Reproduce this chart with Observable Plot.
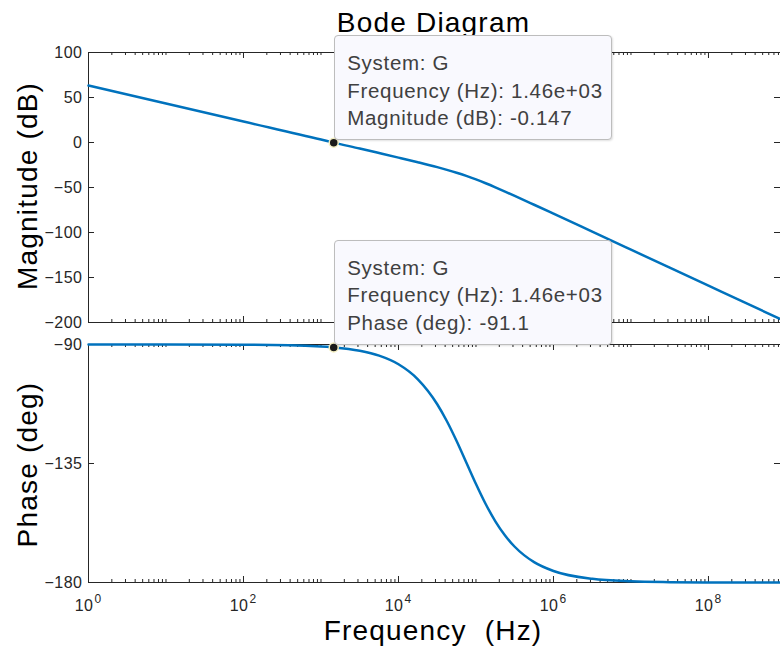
<!DOCTYPE html>
<html><head><meta charset="utf-8">
<script src="https://cdn.jsdelivr.net/npm/d3@7"></script>
<script src="https://cdn.jsdelivr.net/npm/@observablehq/plot@0.6"></script>
<style>
body{margin:0;background:#fff;}
#wrap{position:relative;width:780px;height:650px;overflow:hidden;font-family:"Liberation Sans",Arial,sans-serif;}
#wrap > svg{position:absolute;left:0;}
.tip{position:absolute;box-sizing:border-box;background:#f9f9fe;border:1px solid #bdbdbd;border-radius:4px;color:#404040;font-size:20.5px;letter-spacing:0.7px;line-height:27.5px;padding:13px 0 0 12px;white-space:pre;box-shadow:1px 1px 2px rgba(0,0,0,0.12);}
</style></head><body><div id="wrap"></div>
<script>
// ---- data ----
const freqHz   = [1, 10, 100, 1000, 1460, 3162, 5623, 10000, 17783, 31623, 42170, 56234, 74989, 100000, 133352, 177828, 237137, 316228, 562341, 1000000, 3162278, 10000000, 31622777, 100000000, 316227766, 850000000];
const magDb    = [63.3, 43.3, 23.3, 3.3, -0.15, -6.71, -11.72, -16.77, -21.93, -27.39, -30.37, -33.6, -37.15, -41.06, -45.3, -49.81, -54.51, -59.32, -69.16, -79.1, -99.08, -119.08, -139.08, -159.08, -179.08, -196.3];
const phaseDeg = [-90, -90.01, -90.08, -90.75, -91.1, -92.38, -94.23, -97.49, -103.17, -112.58, -119.01, -126.49, -134.61, -142.75, -150.31, -156.85, -162.22, -166.48, -172.3, -175.65, -178.62, -179.56, -179.86, -179.96, -179.99, -180];
const xDomain = [1, 850000000];
const magDomain = [-200, 100];
const phaseDomain = [-180, -90];
const magTicks = [100, 50, 0, -50, -100, -150, -200];
const phaseTicks = [-90, -135, -180];
const xTickExps = [0, 2, 4, 6, 8];
const systemName = "G";
const tipFreqLabel = "1.46e+03";
const tipFreq = 1460;
const tipMag = -0.147;
const tipPhase = -91.1;
const titleText = "Bode Diagram";
const magLabel = "Magnitude (dB)";
const phaseLabel = "Phase (deg)";
const freqLabel = "Frequency  (Hz)";

// ---- tick sets ----
const majorX = xTickExps.map(e => Math.pow(10, e));
const minorX = [];
for (let k = 0; k <= 8; k++) for (let m = 1; m <= 9; m++) {
  const f = m * Math.pow(10, k);
  if (f <= xDomain[1] && !(m === 1 && xTickExps.includes(k))) minorX.push(f);
}

const W = 780, ML = 88, MR = 0;
const AX = "#262626";
const wrap = document.getElementById("wrap");

function panel({h, mt, mb, yDomain, yTicks, values, tipY, xLabels}) {
  const plotW = W - ML - MR, plotH = h - mt - mb;
  const data = freqHz.map((f, i) => ({f, v: values[i]}));
  const marks = [
    Plot.frame({stroke: AX, strokeWidth: 1}),
    Plot.tickX(minorX, {x: d => d, stroke: AX, insetTop: plotH - 3}),
    Plot.tickX(minorX, {x: d => d, stroke: AX, insetBottom: plotH - 3}),
    Plot.tickX(majorX, {x: d => d, stroke: AX, insetTop: plotH - 6}),
    Plot.tickX(majorX, {x: d => d, stroke: AX, insetBottom: plotH - 6}),
    Plot.tickY(yTicks, {y: d => d, stroke: AX, insetRight: plotW - 6}),
    Plot.tickY(yTicks, {y: d => d, stroke: AX, insetLeft: plotW - 6}),
    Plot.axisY({ticks: yTicks, tickSize: 0, tickPadding: 6, label: null, fontSize: 16}),
    Plot.line(data, {x: "f", y: "v", stroke: "#0072BD", strokeWidth: 2.5, curve: "monotone-x"}),
    Plot.dot([{f: tipFreq, v: tipY}], {x: "f", y: "v", r: 4.5, fill: "#1a1a1a", stroke: "#f3eec0", strokeWidth: 1.5})
  ];
  if (xLabels) {
    marks.push(Plot.text(majorX, {x: d => d, text: () => "10", frameAnchor: "bottom", lineAnchor: "bottom", dy: 28, dx: 5, textAnchor: "end", fontSize: 16, fill: AX}));
    marks.push(Plot.text(xTickExps, {x: e => Math.pow(10, e), text: e => String(e), frameAnchor: "bottom", lineAnchor: "bottom", dy: 20, dx: 6, textAnchor: "start", fontSize: 12, fill: AX}));
  }
  return Plot.plot({
    width: W, height: h, marginLeft: ML, marginRight: MR, marginTop: mt, marginBottom: mb,
    x: {type: "log", domain: xDomain, axis: null},
    y: {domain: yDomain, axis: null},
    style: {fontFamily: "'Liberation Sans', Arial, sans-serif", color: AX, background: "transparent", overflow: "visible", letterSpacing: "0.5px"},
    marks
  });
}

const top1 = 0, top2 = 330;
const pMag = panel({h: 330, mt: 52, mb: 8, yDomain: magDomain, yTicks: magTicks, values: magDb, tipY: tipMag, xLabels: false});
const pPh = panel({h: 320, mt: 14, mb: 68, yDomain: phaseDomain, yTicks: phaseTicks, values: phaseDeg, tipY: tipPhase, xLabels: true});
pMag.style.top = top1 + "px";
pPh.style.top = top2 + "px";
wrap.appendChild(pMag);
wrap.appendChild(pPh);

// ---- labels overlay ----
const ov = d3.select(wrap).append("svg").attr("width", W).attr("height", 650).style("top", "0px")
  .style("font-family", "'Liberation Sans', Arial, sans-serif").style("pointer-events", "none");
ov.append("text").attr("x", 433.5).attr("y", 32).attr("text-anchor", "middle")
  .style("font-size", "28px").style("letter-spacing", "1.2px").attr("fill", "#000").text(titleText);
ov.append("text").attr("transform", "translate(37,186) rotate(-90)").attr("text-anchor", "middle")
  .style("font-size", "28px").style("letter-spacing", "1.2px").attr("fill", "#000").text(magLabel);
ov.append("text").attr("transform", "translate(37,464.5) rotate(-90)").attr("text-anchor", "middle")
  .style("font-size", "28px").style("letter-spacing", "1.2px").attr("fill", "#000").text(phaseLabel);
ov.append("text").attr("x", 433).attr("y", 640).attr("text-anchor", "middle").attr("xml:space", "preserve")
  .style("white-space", "pre").style("font-size", "28px").style("letter-spacing", "1.2px").attr("fill", "#000").text(freqLabel);

// ---- data tips ----
function tip(chart, panelTop, yVal, lines) {
  const sx = chart.scale("x").apply(tipFreq);
  const sy = chart.scale("y").apply(yVal) + panelTop;
  const d = document.createElement("div");
  d.className = "tip";
  const bw = 278, bh = 105;
  d.style.left = (sx + 1) + "px";
  d.style.top = (sy - 2 - bh) + "px";
  d.style.width = bw + "px";
  d.style.height = bh + "px";
  d.textContent = lines.join("\n");
  wrap.appendChild(d);
}
tip(pMag, top1, tipMag, ["System: " + systemName, "Frequency (Hz): " + tipFreqLabel, "Magnitude (dB): " + tipMag]);
tip(pPh, top2, tipPhase, ["System: " + systemName, "Frequency (Hz): " + tipFreqLabel, "Phase (deg): " + tipPhase]);
</script></body></html>
